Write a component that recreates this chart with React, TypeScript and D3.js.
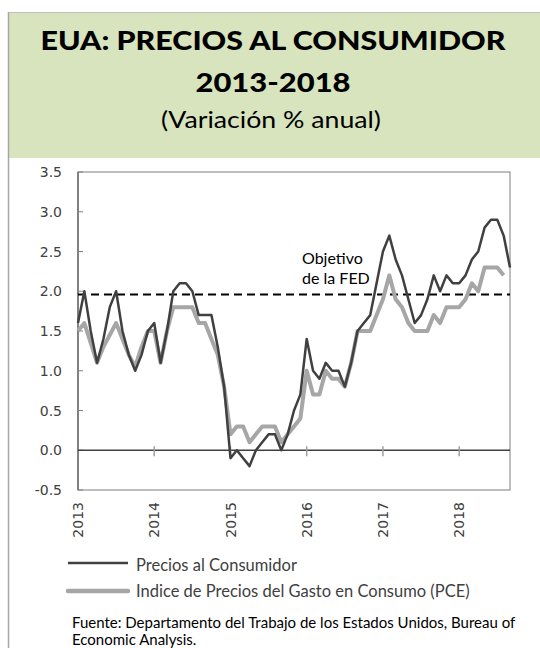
import React from "react";
import * as d3 from "d3";

// ---- Data ----
const years = [2013, 2014, 2015, 2016, 2017, 2018];
const monthNames = ["01", "02", "03", "04", "05", "06", "07", "08", "09", "10", "11", "12"];
// monthly categories Jan 2013 .. Sep 2018
const categories = years.flatMap((y) => monthNames.map((m) => `${y}-${m}`)).slice(0, 69);

// Precios al Consumidor (CPI, % anual)
const cpi = [
  1.6, 2.0, 1.5, 1.1, 1.4, 1.8, 2.0, 1.5, 1.2, 1.0, 1.2, 1.5,
  1.6, 1.1, 1.5, 2.0, 2.1, 2.1, 2.0, 1.7, 1.7, 1.7, 1.3, 0.8,
  -0.1, 0.0, -0.1, -0.2, 0.0, 0.1, 0.2, 0.2, 0.0, 0.2, 0.5, 0.7,
  1.4, 1.0, 0.9, 1.1, 1.0, 1.0, 0.8, 1.1, 1.5, 1.6, 1.7, 2.1,
  2.5, 2.7, 2.4, 2.2, 1.9, 1.6, 1.7, 1.9, 2.2, 2.0, 2.2, 2.1,
  2.1, 2.2, 2.4, 2.5, 2.8, 2.9, 2.9, 2.7, 2.3,
];

// Indice de Precios del Gasto en Consumo (PCE, % anual)
const pce = [
  1.5, 1.6, 1.35, 1.1, 1.3, 1.45, 1.6, 1.4, 1.2, 1.05, 1.3, 1.5,
  1.5, 1.1, 1.5, 1.8, 1.8, 1.8, 1.8, 1.6, 1.6, 1.4, 1.2, 0.8,
  0.2, 0.3, 0.3, 0.1, 0.2, 0.3, 0.3, 0.3, 0.1, 0.2, 0.3, 0.4,
  1.0, 0.7, 0.7, 1.0, 0.9, 0.9, 0.8, 1.1, 1.5, 1.5, 1.5, 1.7,
  1.9, 2.2, 1.9, 1.8, 1.6, 1.5, 1.5, 1.5, 1.7, 1.6, 1.8, 1.8,
  1.8, 1.9, 2.1, 2.0, 2.3, 2.3, 2.3, 2.2,
];

const yTicks = [-0.5, 0.0, 0.5, 1.0, 1.5, 2.0, 2.5, 3.0, 3.5];
const fedTarget = 1.96;

const seriesNames = ["Precios al Consumidor", "Indice de Precios del Gasto en Consumo (PCE)"];

export default function App() {
  const W = 540;
  const H = 648;
  const left = 78, right = 510, top = 172, bottom = 490;

  const x = d3.scalePoint<string>().domain(categories).range([left, right]).padding(0);
  const y = d3.scaleLinear().domain([-0.5, 3.5]).range([bottom, top]);

  const line = d3
    .line<number>()
    .x((_, i) => x(categories[i]) as number)
    .y((d) => y(d));

  const axisFont = "'DejaVu Sans', sans-serif";
  const textFont = "Lato, 'Open Sans', sans-serif";

  return (
    <svg
      width={W}
      height={H}
      style={{ position: "absolute", left: 0, top: 0, background: "#fff" }}
    >
      {/* header */}
      <rect x={8} y={12} width={532} height={146} fill="#d7e4bd" />
      <line x1={8} x2={540} y1={12.5} y2={12.5} stroke="#bfbfbf" strokeWidth={1} />
      <line x1={8.5} x2={8.5} y1={12} y2={648} stroke="#a6a6a6" strokeWidth={1.5} />

      <text
        x={273}
        y={50}
        textAnchor="middle"
        fontFamily={textFont}
        fontWeight={900}
        fontSize={26}
        textLength={465}
        lengthAdjust="spacingAndGlyphs"
        fill="#000"
      >
        EUA: PRECIOS AL CONSUMIDOR
      </text>
      <text
        x={273}
        y={92}
        textAnchor="middle"
        fontFamily={textFont}
        fontWeight={900}
        fontSize={26}
        textLength={155}
        lengthAdjust="spacingAndGlyphs"
        fill="#000"
      >
        2013-2018
      </text>
      <text
        x={271}
        y={128}
        textAnchor="middle"
        fontFamily={textFont}
        fontSize={24}
        textLength={220}
        lengthAdjust="spacingAndGlyphs"
        fill="#000"
      >
        (Variación % anual)
      </text>

      {/* plot frame */}
      <rect x={left} y={top} width={right - left} height={bottom - top} fill="none" stroke="#7f7f7f" strokeWidth={1} />
      <line x1={left} x2={left} y1={top} y2={bottom} stroke="#595959" strokeWidth={1.2} />

      {/* y ticks */}
      {yTicks.map((t) => (
        <g key={t}>
          <line x1={left} x2={left + 5} y1={y(t)} y2={y(t)} stroke="#808080" strokeWidth={1} />
          <text
            x={62}
            y={y(t)}
            dy="0.36em"
            textAnchor="end"
            fontFamily={axisFont}
            fontSize={14}
            fill="#404040"
          >
            {t.toFixed(1)}
          </text>
        </g>
      ))}

      {/* zero axis */}
      <line x1={left} x2={right} y1={y(0)} y2={y(0)} stroke="#404040" strokeWidth={1.3} />
      {years.map((yr, k) => {
        const xv = x(categories[k * 12]) as number;
        return (
          <g key={yr}>
            {k > 0 && <line x1={xv} x2={xv} y1={y(0) - 4} y2={y(0) + 6} stroke="#a0a0a0" strokeWidth={1.5} />}
            <text
              transform={`translate(${xv},502) rotate(-90)`}
              dy="0.36em"
              textAnchor="end"
              fontFamily={axisFont}
              fontSize={14}
              fill="#404040"
            >
              {yr}
            </text>
          </g>
        );
      })}

      {/* FED target */}
      <line
        x1={left}
        x2={right}
        y1={y(fedTarget)}
        y2={y(fedTarget)}
        stroke="#000"
        strokeWidth={2}
        strokeDasharray="8,5"
      />
      <text fontFamily={textFont} fontSize={16} fill="#000">
        <tspan x={302} y={264}>Objetivo</tspan>
        <tspan x={302} y={284}>de la FED</tspan>
      </text>

      {/* series */}
      <path d={line(pce) || ""} fill="none" stroke="#a6a6a6" strokeWidth={4} strokeLinejoin="round" />
      <path d={line(cpi) || ""} fill="none" stroke="#404040" strokeWidth={2.5} strokeLinejoin="round" />

      {/* legend */}
      <line x1={68} x2={128} y1={563} y2={563} stroke="#404040" strokeWidth={2.5} />
      <text x={136} y={571} fontFamily={textFont} fontSize={16.5} fill="#404040">
        {seriesNames[0]}
      </text>
      <line x1={68} x2={128} y1={591} y2={591} stroke="#a6a6a6" strokeWidth={4.5} strokeLinecap="round" />
      <text x={136} y={597} fontFamily={textFont} fontSize={16.5} fill="#404040">
        {seriesNames[1]}
      </text>

      {/* source */}
      <text fontFamily={textFont} fontSize={15} fill="#000">
        <tspan x={72} y={628}>Fuente:  Departamento del Trabajo de los Estados Unidos, Bureau of</tspan>
        <tspan x={72} y={645}>Economic Analysis.</tspan>
      </text>
    </svg>
  );
}
